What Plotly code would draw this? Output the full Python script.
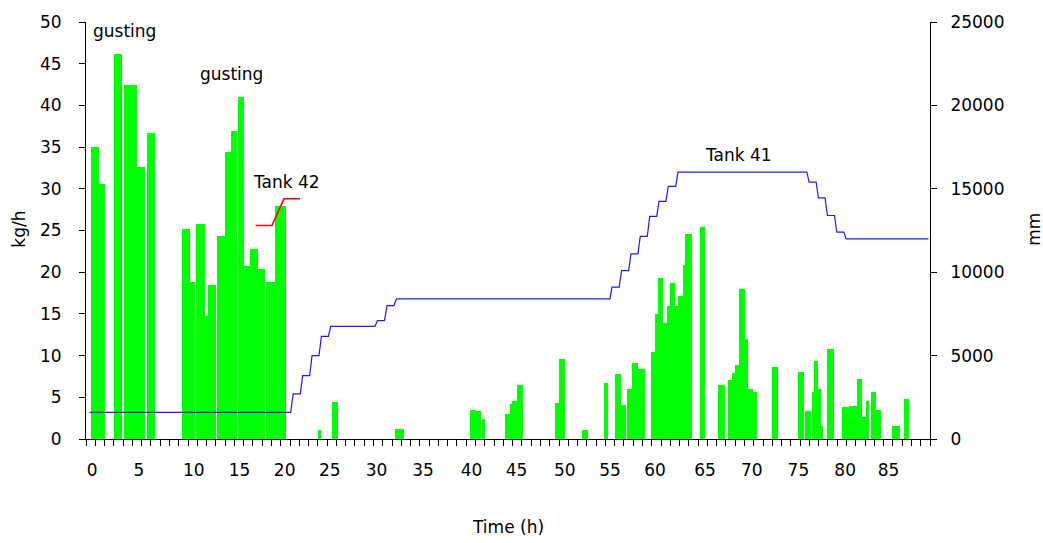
import plotly.graph_objects as go

# ---------------- data ----------------
# Wind-borne snow flux bars (kg/h): start time, end time, value
bar_start = [0.0, 0.85, 2.5, 3.65, 5.03, 6.03, 9.81, 10.67, 11.32, 12.29, 12.61, 13.58, 14.52, 15.09,
             15.85, 16.5, 17.14, 18.01, 18.87, 19.84, 24.48, 25.99, 32.79, 40.88, 41.53, 42.15, 44.66,
             45.2, 45.42, 45.96, 50.06, 50.49, 52.97, 55.34, 56.53, 57.18, 57.82, 58.36, 59.01, 60.41,
             60.85, 61.17, 61.71, 62.14, 62.46, 63.0, 63.33, 63.87, 64.08, 65.7, 67.64, 68.72, 69.16,
             69.48, 69.91, 70.56, 70.88, 71.42, 73.47, 76.28, 77.03, 77.79, 78.0, 78.44, 78.76, 79.41,
             81.03, 81.78, 82.64, 83.18, 83.62, 84.16, 84.69, 86.42, 87.72]
bar_end = [0.85, 1.57, 3.33, 4.95, 5.81, 6.89, 10.67, 11.21, 12.29, 12.61, 13.47, 14.52, 15.09, 15.74,
           16.5, 17.14, 18.01, 18.76, 19.84, 21.03, 24.8, 26.64, 33.76, 41.53, 42.07, 42.5, 45.2,
           45.42, 45.96, 46.6, 50.49, 51.14, 53.62, 55.78, 57.18, 57.72, 58.36, 59.01, 59.77, 60.85,
           61.17, 61.71, 62.14, 62.46, 63.0, 63.33, 63.87, 64.08, 64.84, 66.24, 68.4, 69.16, 69.48,
           69.91, 70.56, 70.88, 71.42, 71.85, 74.12, 76.93, 77.68, 78.0, 78.44, 78.76, 78.98, 80.16,
           81.78, 82.64, 83.18, 83.62, 83.94, 84.69, 85.23, 87.28, 88.26]
bar_value = [35.0, 30.6, 46.2, 42.4, 32.6, 36.7, 25.2, 18.8, 25.8, 14.7, 18.5, 24.4, 34.4, 36.9,
             41.0, 20.8, 22.8, 20.35, 18.8, 27.9, 1.1, 4.4, 1.2, 3.46, 3.35, 2.4, 3.0,
             4.17, 4.5, 6.5, 4.3, 9.6, 1.1, 6.77, 7.83, 4.05, 5.94, 9.13, 8.42, 10.4,
             15.0, 19.3, 13.85, 15.98, 18.7, 16.0, 17.16, 20.9, 24.6, 25.4, 6.53, 7.12, 7.95,
             8.9, 18.0, 12.0, 5.94, 5.6, 8.66, 8.07, 3.35, 5.6, 9.37, 5.94, 1.57, 10.8,
             3.8, 3.9, 7.24, 2.6, 4.5, 5.6, 3.46, 1.57, 4.76]

# Tank 41 level (mm)
tank41_time = [-0.1, 21.57, 21.84, 22.61, 22.86, 23.62, 23.87, 24.62, 24.88, 25.64, 25.88, 30.66, 30.92,
               31.68, 31.96, 32.71, 32.97, 55.99, 56.21, 56.99, 57.25, 58.01, 58.26, 59.01, 59.26,
               60.02, 60.28, 61.03, 61.28, 62.03, 62.28, 63.08, 63.33, 77.22, 77.47, 78.22, 78.47,
               79.19, 79.44, 80.2, 80.45, 81.21, 81.46, 90.34]
tank41_level = [1600, 1600, 2700, 2700, 3800, 3800, 5000, 5000, 6150, 6150, 6750, 6750, 7100,
                7100, 8000, 8000, 8400, 8400, 9100, 9100, 10100, 10100, 11100, 11100, 12150,
                12150, 13350, 13350, 14250, 14250, 15150, 15150, 16000, 16000, 15400, 15400, 14450,
                14450, 13400, 13400, 12400, 12400, 12000, 12000]

# Tank 42 level (mm)
tank42_time = [17.79, 19.55, 20.84, 22.57]
tank42_level = [12800, 12800, 14400, 14400]

# x tick labels
xtick_pos = [0.17, 5.2, 11.13, 16.06, 20.92, 25.78, 30.82, 35.84, 41.07, 45.92, 51.13, 56.0,
             60.85, 66.24, 71.28, 76.31, 81.35, 86.02]
xtick_text = ["0", "5", "10", "15", "20", "25", "30", "35", "40", "45", "50", "55",
              "60", "65", "70", "75", "80", "85"]
minor_ticks = [i - 0.5 for i in range(92)]

# y tick labels
y1_ticks = [0, 5, 10, 15, 20, 25, 30, 35, 40, 45, 50]
y2_ticks = [0, 5000, 10000, 15000, 20000, 25000]

FONT = "DejaVu Sans"
FS = 17

fig = go.Figure()

centers = [(s + e) / 2 for s, e in zip(bar_start, bar_end)]
widths = [e - s for s, e in zip(bar_start, bar_end)]
fig.add_trace(go.Bar(x=centers, y=bar_value, width=widths, marker=dict(color="#00ff00", line=dict(width=0)),
                     xaxis="x", yaxis="y", hoverinfo="skip"))
fig.add_trace(go.Scatter(x=tank41_time, y=tank41_level, mode="lines", line=dict(color="#1a1aff", width=1.2),
                         xaxis="x", yaxis="y2"))
fig.add_trace(go.Scatter(x=tank42_time, y=tank42_level, mode="lines", line=dict(color="#ff0000", width=1.6),
                         xaxis="x", yaxis="y2"))

axis_common = dict(showgrid=False, zeroline=False, tickfont=dict(family=FONT, size=FS, color="#000"))

fig.update_layout(
    width=1043, height=543,
    margin=dict(l=86, r=113, t=16, b=104),
    paper_bgcolor="white", plot_bgcolor="white",
    showlegend=False, bargap=0, barmode="overlay",
    font=dict(family=FONT, size=FS, color="#000"),
    xaxis=dict(**axis_common, range=[-0.5, 90.5], showline=True, linecolor="#000", linewidth=1,
               tickmode="array", tickvals=xtick_pos, ticktext=xtick_text,
               ticks="outside", ticklen=6, tickcolor="rgba(0,0,0,0)", ticklabelstandoff=10,
               minor=dict(tickmode="array", tickvals=minor_ticks, ticks="outside", ticklen=6,
                          tickcolor="#000", tickwidth=1, showgrid=False)),
    yaxis=dict(**axis_common, range=[0, 50], tickmode="array", tickvals=y1_ticks,
               ticktext=[str(v) for v in y1_ticks], showline=True, linecolor="#000",
               ticks="outside", ticklen=6, tickcolor="#000", ticklabelstandoff=14),
    yaxis2=dict(**axis_common, range=[0, 25000], tickmode="array", tickvals=y2_ticks,
                ticktext=[str(v) for v in y2_ticks], overlaying="y",
                side="right", anchor="x", showline=True, linecolor="#000",
                ticks="outside", ticklen=6, tickcolor="#000", ticklabelstandoff=10),
    yaxis3=dict(range=[0, 50], tickmode="array", tickvals=y1_ticks, overlaying="y", side="left", anchor="x",
                ticks="inside", ticklen=6, tickcolor="#000", showticklabels=False, showgrid=False,
                zeroline=False, showline=False),
    yaxis4=dict(range=[0, 25000], tickmode="array", tickvals=y2_ticks, overlaying="y", side="right", anchor="x",
                ticks="inside", ticklen=6, tickcolor="#000", showticklabels=False, showgrid=False,
                zeroline=False, showline=False),
)

annots = [
    dict(text="gusting", x=0.06, y=48.95, xanchor="left"),
    dict(text="gusting", x=15.17, y=43.8, xanchor="center"),
    dict(text="Tank 42", x=21.1, y=30.8, xanchor="center"),
    dict(text="Tank 41", x=69.84, y=34.1, xanchor="center"),
]
for a in annots:
    fig.add_annotation(text=a["text"], x=a["x"], y=a["y"], xref="x", yref="y", xanchor=a["xanchor"],
                       yanchor="middle", showarrow=False, font=dict(family=FONT, size=FS, color="#000"))

# axis titles
fig.add_annotation(text="kg/h", xref="paper", yref="paper", x=(19 - 86) / 844, y=(439.3 - 227) / 423,
                   textangle=-90, showarrow=False, xanchor="center", yanchor="middle",
                   font=dict(family=FONT, size=FS, color="#000"))
fig.add_annotation(text="mm", xref="paper", yref="paper", x=(1034 - 86) / 844, y=(439.3 - 227) / 423,
                   textangle=-90, showarrow=False, xanchor="center", yanchor="middle",
                   font=dict(family=FONT, size=FS, color="#000"))
fig.add_annotation(text="Time (h)", xref="paper", yref="paper", x=(508 - 86) / 844, y=(439.3 - 529) / 423,
                   showarrow=False, xanchor="center", yanchor="middle",
                   font=dict(family=FONT, size=FS, color="#000"))

fig.write_html("out.html", config={"displayModeBar": False},
               post_script="document.body.style.margin = '0px';")
